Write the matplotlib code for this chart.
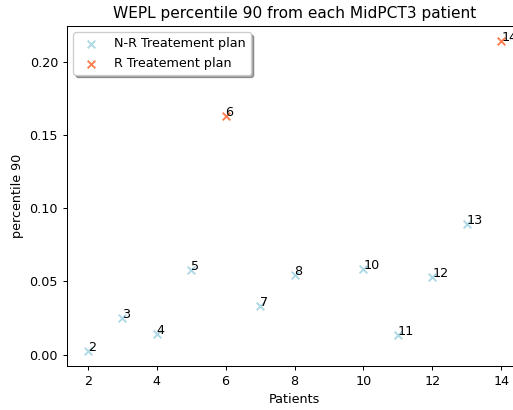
import matplotlib
matplotlib.use("Agg")
import matplotlib.pyplot as plt

# Patients and their WEPL 90th percentile
nr_patients = [2, 3, 4, 5, 7, 8, 10, 11, 12, 13]
nr_values = [0.0027, 0.025, 0.0143, 0.058, 0.0328, 0.054, 0.0587, 0.013, 0.0526, 0.0894]
r_patients = [6, 14]
r_values = [0.163, 0.2137]

DPI = 92
fig = plt.figure(figsize=(513 / DPI, 410 / DPI), dpi=DPI)
ax = fig.add_axes([67 / 513, 1 - 366 / 410, (522 - 67) / 513, (366 - 26) / 410])

ax.scatter(nr_patients, nr_values, marker="x", color="lightblue", label="N-R Treatement plan")
ax.scatter(r_patients, r_values, marker="x", color="coral", label="R Treatement plan")

for p, v in zip(nr_patients + r_patients, nr_values + r_values):
    ax.annotate(str(p), (p, v))

ax.set_title("WEPL percentile 90 from each MidPCT3 patient")
ax.set_xlabel("Patients")
ax.set_ylabel("percentile 90")
ax.legend(loc="upper left", shadow=True)

fig.savefig("out.png", dpi=DPI)
